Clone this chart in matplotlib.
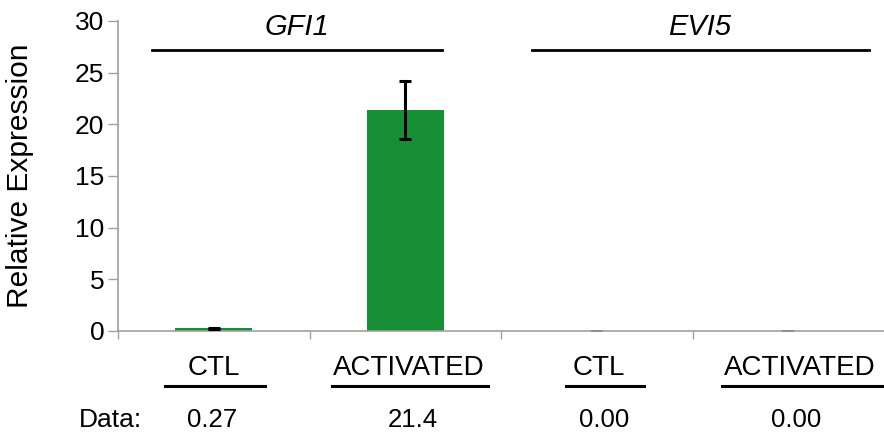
import numpy as np
import matplotlib.pyplot as plt
from matplotlib.ticker import FixedLocator

plt.rcParams['font.family'] = ['Liberation Sans', 'DejaVu Sans']

# data
genes = ["GFI1", "EVI5"]
conditions = ["CTL", "ACTIVATED", "CTL", "ACTIVATED"]
values = [0.27, 21.4, 0.00, 0.00]
errors = [0.05, 2.8, 0.0, 0.0]
data_labels = ["0.27", "21.4", "0.00", "0.00"]

fig = plt.figure(figsize=(8.84, 4.37), dpi=100)
ax = fig.add_axes([0.1335, 0.2426, 0.8665, 0.7094])

x = np.arange(len(values))
ax.bar(x, values, width=0.4, color="#178f34", zorder=2)
ax.errorbar(x[:2], values[:2], yerr=errors[:2], fmt="none", ecolor="black",
            elinewidth=2.2, capsize=4, capthick=2.2, zorder=3)
ax.errorbar(x[2:], values[2:], yerr=errors[2:], fmt="none", ecolor="#909090",
            elinewidth=1, capsize=4, capthick=1.2, zorder=3)

ax.set_xlim(-0.5, 3.5)
ax.set_ylim(0, 30)
ax.set_yticks(np.arange(0, 31, 5))
ax.set_xticks([])
ax.xaxis.set_minor_locator(FixedLocator([-0.5, 0.5, 1.5, 2.5]))
ax.tick_params(axis="x", which="minor", length=6, width=1, color="#a0a0a0", direction="out")
ax.tick_params(axis="y", length=7, width=1, color="#a0a0a0", labelsize=19, pad=3)

for s in ["top", "right"]:
    ax.spines[s].set_visible(False)
for s in ["left", "bottom"]:
    ax.spines[s].set_color("#a0a0a0")
    ax.spines[s].set_linewidth(1.2)

ax.set_ylabel("Relative Expression", fontsize=21.5, va="center", ha="center")
ax.yaxis.set_label_coords(-0.128, 0.5)

# gene group headers
group_spans = [(-0.32, 1.19), (1.66, 3.42)]
for g, (a, b) in zip(genes, group_spans):
    ax.plot([a, b], [27.2, 27.2], color="black", lw=2, clip_on=False)
    ax.text((a + b) / 2, 29.4, g, style="italic", fontsize=21, ha="center", va="center")

# condition labels with underlines
tr = ax.get_xaxis_transform()
under_spans = [(-0.255, 0.266), (0.615, 1.432), (1.84, 2.245), (2.656, 3.5)]
label_x = [0.0, 1.02, 2.01, 3.06]
data_x = [-0.01, 1.04, 2.04, 3.04]
for i, c in enumerate(conditions):
    ax.text(label_x[i], -0.12, c, transform=tr, fontsize=20, ha="center", va="center")
    a, b = under_spans[i]
    ax.plot([a, b], [-0.177, -0.177], transform=tr, color="black", lw=2.2, clip_on=False)
    ax.text(data_x[i], -0.287, data_labels[i], transform=tr, fontsize=18.5,
            ha="center", va="center")

ax.text(-0.542, -0.287, "Data:", transform=tr, fontsize=19, ha="center", va="center")

fig.savefig("out.png", dpi=100)
